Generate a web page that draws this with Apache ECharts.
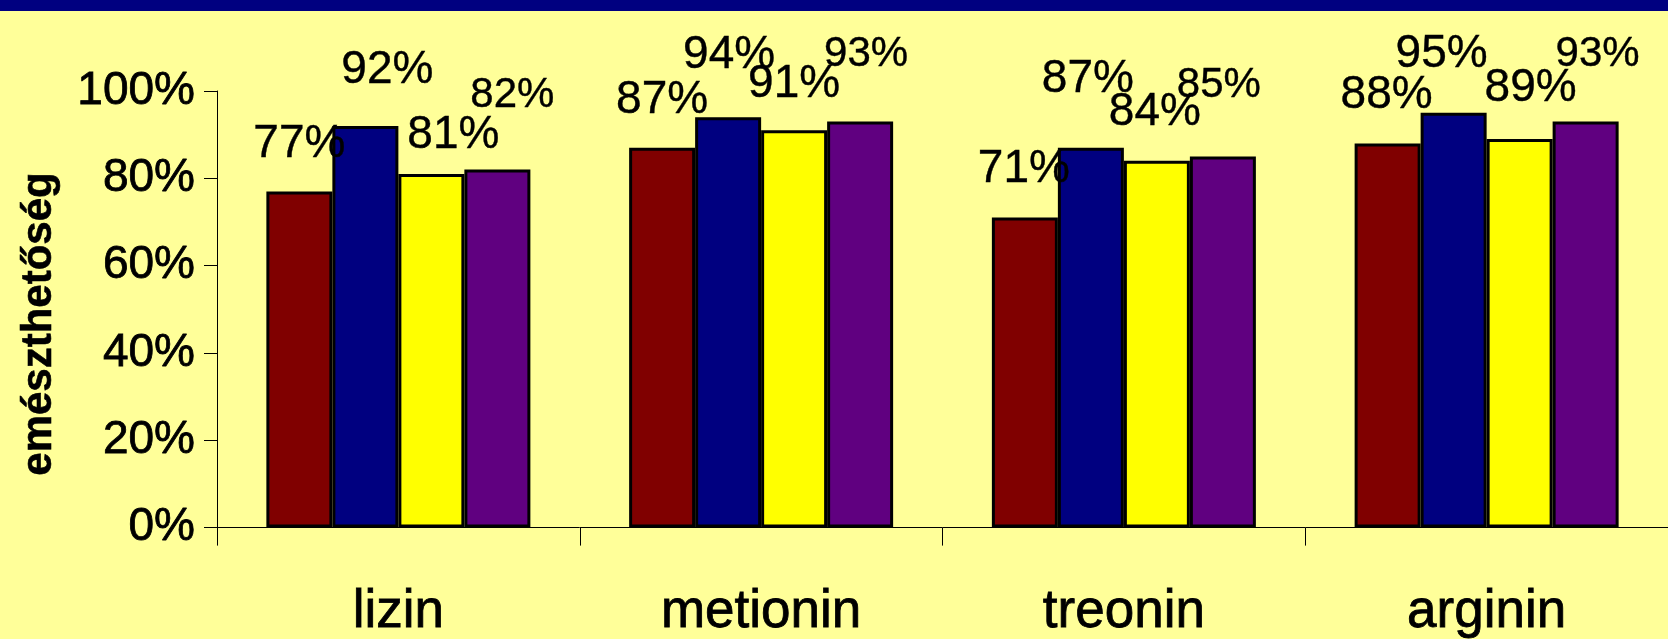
<!DOCTYPE html>
<html>
<head>
<meta charset="utf-8">
<title>emészthetőség</title>
<script src="https://cdn.jsdelivr.net/npm/echarts@6/dist/echarts.min.js"></script>
<style>
  html, body { margin: 0; padding: 0; background: #FFFF99; }
  #chart { width: 1668px; height: 639px; }
</style>
</head>
<body>
<div id="chart"></div>
<script>
// Amino acid digestibility, four samples per amino acid (percent)
const categories = ['lizin', 'metionin', 'treonin', 'arginin'];
const series1 = [77, 87, 71, 88];
const series2 = [92, 94, 87, 95];
const series3 = [81, 91, 84, 89];
const series4 = [82, 93, 85, 93];
const yTickValues = [0, 20, 40, 60, 80, 100];
const yTitle = 'emészthetőség';

// Label nudges: [horizontal shift, gap between text baseline and bar top]
const nudge1 = [[0, 30], [0, 30], [-1, 31], [-1, 31]];
const nudge2 = [[22, 38], [1, 44], [-3, 51], [-12, 41]];
const nudge3 = [[22, 21], [0, 29], [-2, 31], [11, 33]];
const nudge4 = [[15, 58], [6, 51], [-4, 55], [12, 51]];

const FONT = '"Liberation Sans", Arial, Helvetica, sans-serif';
// a touch of extra stroke weight for the axis texts
const AXIS_WEIGHT = { textBorderColor: '#000', textBorderWidth: 0.8 };
const LABEL_WEIGHT = { textBorderColor: '#000', textBorderWidth: 0.4 };

function makeSeries(name, values, color, nudges, fontSize) {
  const descent = fontSize * 0.12;
  return {
    name: name,
    type: 'bar',
    barWidth: 66,
    barGap: '0%',
    itemStyle: { color: color, borderColor: '#000', borderWidth: 3 },
    data: values.map((v, i) => ({
      value: v,
      label: { offset: [nudges[i][0], -(nudges[i][1] - descent)] }
    })),
    label: Object.assign({
      show: true,
      position: 'top',
      distance: 0,
      fontFamily: FONT,
      fontSize: fontSize,
      color: '#000',
      formatter: p => p.value + '%'
    }, LABEL_WEIGHT),
    emphasis: { disabled: true },
    animation: false
  };
}

const chart = echarts.init(document.getElementById('chart'), null, { renderer: 'canvas' });
chart.setOption({
  backgroundColor: '#FFFF99',
  animation: false,
  graphic: [
    {
      type: 'rect',
      left: 0, top: 0,
      shape: { width: 1668, height: 11 },
      style: { fill: '#000080' },
      silent: true
    },
    {
      // vertical axis title
      type: 'text',
      x: 39, y: 324,
      rotation: Math.PI / 2,
      style: {
        text: yTitle,
        fontFamily: FONT,
        fontSize: 42,
        fontWeight: 'bold',
        fill: '#000',
        stroke: '#000',
        lineWidth: 0.6,
        align: 'center',
        verticalAlign: 'middle'
      },
      silent: true
    }
  ],
  grid: { left: 217, right: 0, top: 91, bottom: 111, containLabel: false },
  xAxis: {
    type: 'category',
    data: categories,
    boundaryGap: true,
    axisLine: { show: true, lineStyle: { color: '#000', width: 1 } },
    axisTick: { show: true, length: 18, lineStyle: { color: '#000', width: 1 } },
    axisLabel: Object.assign({ fontFamily: FONT, fontSize: 53, color: '#000', margin: 58 }, AXIS_WEIGHT)
  },
  yAxis: {
    type: 'value',
    min: yTickValues[0],
    max: yTickValues[yTickValues.length - 1],
    interval: yTickValues[1] - yTickValues[0],
    axisLine: { show: true, lineStyle: { color: '#000', width: 1 } },
    axisTick: { show: true, length: 13, lineStyle: { color: '#000', width: 1 } },
    splitLine: { show: false },
    axisLabel: Object.assign({ fontFamily: FONT, fontSize: 46, color: '#000', margin: 22, formatter: '{value}%' }, AXIS_WEIGHT)
  },
  series: [
    makeSeries('1', series1, '#800000', nudge1, 46),
    makeSeries('2', series2, '#000080', nudge2, 46),
    makeSeries('3', series3, '#FFFF00', nudge3, 46),
    makeSeries('4', series4, '#600080', nudge4, 42)
  ]
});
</script>
</body>
</html>
